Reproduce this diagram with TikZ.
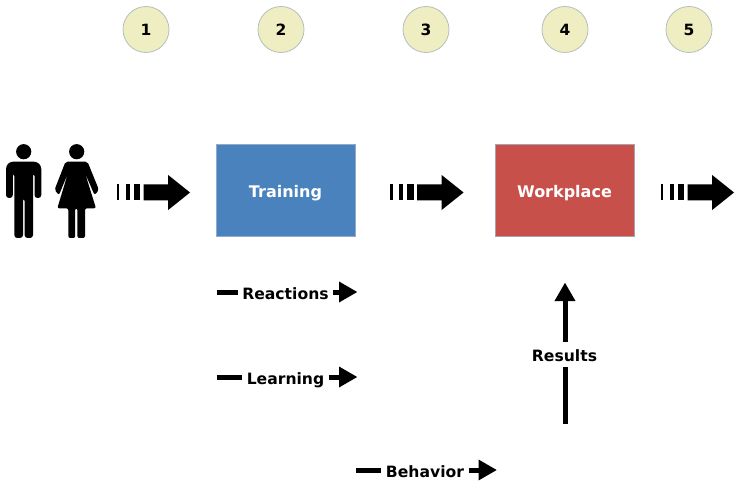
\documentclass[tikz,border=0pt]{standalone}
\usepackage{fontspec}
\setmainfont{DejaVu Sans}
\usetikzlibrary{arrows.meta}
\definecolor{badgefill}{HTML}{EEEEC2}
\definecolor{badgeline}{HTML}{B4BFBC}
\definecolor{trainfill}{HTML}{4A82BD}
\definecolor{trainline}{HTML}{8FAACB}
\definecolor{workfill}{HTML}{C8504B}
\definecolor{workline}{HTML}{A9A0B0}
\tikzset{
  x=1pt, y=-1pt,
  badge/.style={circle, draw=badgeline, fill=badgefill, line width=0.8pt, minimum size=46pt, inner sep=0pt, font=\bfseries\fontsize{15.5}{18}\selectfont},
  stagebox/.style={draw=#1, line width=1pt, minimum width=139pt, minimum height=92pt, inner sep=0pt, text=white, text height=12.5pt, text depth=0pt, font=\bfseries\fontsize{16}{19}\selectfont},
  tag/.style={inner sep=4.5pt, text height=11.5pt, text depth=0pt, font=\bfseries\fontsize{15.6}{18}\selectfont},
  stem/.style={line width=5pt, black},
  flow/.style={line width=5pt, black, -{Triangle[length=18.5pt,width=19.6pt]}},
  stripedarrow/.pic={
    \fill (0,-8) rectangle (2.6,8);
    \fill (9,-8) rectangle (13,8);
    \fill (17.2,-8) rectangle (23.8,8);
    \fill (27.2,-8) -- (51.5,-8) -- (51.5,-17.6) -- (73.5,0) -- (51.5,17.6) -- (51.5,8) -- (27.2,8) -- cycle;
  }
}
\begin{document}
\begin{tikzpicture}
\useasboundingbox (0,0) rectangle (737,484);

% numbered badges
\node[badge] (b1) at (146,29.5) {1};
\node[badge] (b2) at (281,29.5) {2};
\node[badge] (b3) at (426,29.5) {3};
\node[badge] (b4) at (565,29.5) {4};
\node[badge] (b5) at (689,29.5) {5};

% man figure
\fill (23.7,151.7) circle (7.6);
\fill[rounded corners=3pt] (6,198) -- (6,166) -- (10,161.7) -- (37,161.7) -- (41.3,166) -- (41.3,198) -- (34.5,198) -- (34.5,173) -- (33,173) -- (33,238) -- (24.6,238) -- (24.6,198) -- (23,198) -- (23,238) -- (14.3,238) -- (14.3,173) -- (12.8,173) -- (12.8,198) -- cycle;

% woman figure
\fill (76.7,151.7) circle (7.6);
\fill[rounded corners=2pt] (65.5,161.7) -- (87.5,161.7) -- (99,190) -- (94.5,195) -- (85,173) -- (96,208.3) -- (85,208.3) -- (85,238) -- (77.4,238) -- (77.4,208.3) -- (75.2,208.3) -- (75.2,238) -- (68.3,238) -- (68.3,208.3) -- (57.3,208.3) -- (68,173) -- (59,195) -- (54.5,190) -- cycle;

% striped arrows
\pic at (116.5,192.5) {stripedarrow};
\pic at (390,192.5) {stripedarrow};
\pic at (660.5,192.5) {stripedarrow};

% stages
\node[stagebox=trainline, fill=trainfill] (train) at (285.5,191) {Training};
\node[stagebox=workline, fill=workfill] (work) at (564.5,191) {Workplace};

% evaluation levels
\coordinate (rs) at (216.5,292);
\coordinate (re) at (357.5,292);
\node[tag] (react) at (285.5,294) {Reactions};
\draw[stem] (rs) -- (rs -| react.west);
\draw[flow] (re -| react.east) -- (re);

\coordinate (ls) at (216.5,377);
\coordinate (le) at (357.5,377);
\node[tag] (learn) at (285.5,379) {Learning};
\draw[stem] (ls) -- (ls -| learn.west);
\draw[flow] (le -| learn.east) -- (le);

\coordinate (bs) at (356,470);
\coordinate (be) at (497,470);
\node[tag] (behav) at (425,472) {Behavior};
\draw[stem] (bs) -- (bs -| behav.west);
\draw[flow] (be -| behav.east) -- (be);

\coordinate (us) at (565,424);
\coordinate (ue) at (565,282.5);
\node[tag, text height=15.5pt, text depth=1pt, inner ysep=4pt] (results) at (564.5,354.25) {Results};
\draw[stem] (us) -- (us |- results.south);
\draw[flow] (ue |- results.north) -- (ue);
\end{tikzpicture}
\end{document}
